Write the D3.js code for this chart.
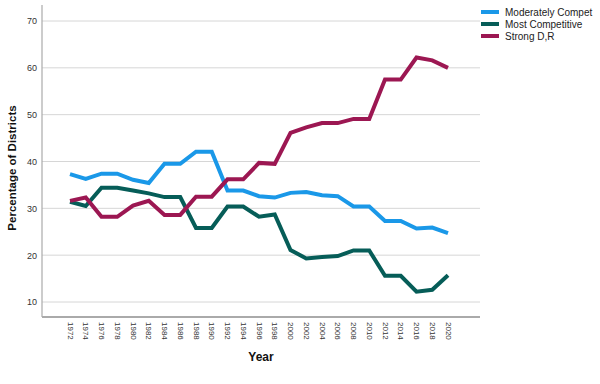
<!DOCTYPE html>
<html>
<head>
<meta charset="utf-8">
<script src="https://cdn.jsdelivr.net/npm/d3@7"></script>
<style>
  body { margin: 0; background: #fff; }
  svg { font-family: "Liberation Sans", Arial, sans-serif; }
</style>
</head>
<body>
<script>
// values
var years = [1972,1974,1976,1978,1980,1982,1984,1986,1988,1990,1992,1994,1996,
             1998,2000,2002,2004,2006,2008,2010,2012,2014,2016,2018,2020];
var moderately = [37.3,36.3,37.4,37.4,36.1,35.4,39.5,39.5,42.1,42.1,33.8,33.8,32.6,
                  32.3,33.3,33.5,32.8,32.6,30.4,30.4,27.3,27.3,25.7,25.9,24.7];
var most = [31.4,30.5,34.4,34.4,33.8,33.2,32.4,32.4,25.8,25.8,30.4,30.4,28.2,
            28.7,21.1,19.3,19.6,19.8,21.0,21.0,15.6,15.6,12.2,12.6,15.7];
var strong = [31.6,32.3,28.2,28.2,30.6,31.6,28.6,28.6,32.5,32.5,36.2,36.2,39.7,
              39.5,46.1,47.3,48.2,48.2,49.1,49.1,57.5,57.5,62.2,61.6,60.0];
var seriesNames = ["Moderately Compet", "Most Competitive", "Strong D,R"];
var yTicks = [10,20,30,40,50,60,70];

var colors = ["#1a98e8", "#065d58", "#9c1752"];
var seriesVals = [moderately, most, strong];

var width = 600, height = 384;
var svg = d3.select("body").append("svg")
  .attr("width", width)
  .attr("height", height);

var x = d3.scalePoint().domain(years).range([70, 448]);
var y = d3.scaleLinear().domain([10, 70]).range([302, 21]);
var xLeft = 42, xRight = 480, yBottom = 317, yTop = 5;

// gridlines
svg.append("g").selectAll("line")
  .data(yTicks)
  .enter().append("line")
  .attr("x1", xLeft).attr("x2", xRight)
  .attr("y1", d => y(d)).attr("y2", d => y(d))
  .attr("stroke", "#d6d6d6")
  .attr("stroke-width", 1);

// y axis
var yAxis = svg.append("g")
  .attr("transform", "translate(" + xLeft + ",0)")
  .call(d3.axisLeft(y).tickValues(yTicks).tickSize(0).tickPadding(5));
yAxis.select(".domain").remove();
yAxis.selectAll("text")
  .attr("fill", "#333")
  .style("font-size", "9px");

svg.append("line")
  .attr("x1", xLeft).attr("x2", xLeft)
  .attr("y1", yTop).attr("y2", yBottom)
  .attr("stroke", "#aaa").attr("stroke-width", 1.2);

// x axis
var xAxis = svg.append("g")
  .attr("transform", "translate(0," + yBottom + ")")
  .call(d3.axisBottom(x).tickSize(0).tickPadding(0));
xAxis.select(".domain").remove();
xAxis.selectAll("text")
  .attr("fill", "#333")
  .style("font-size", "8px")
  .attr("text-anchor", "start")
  .attr("dy", null)
  .attr("y", 0)
  .attr("transform", d => "translate(" + (-3) + ",5) rotate(90)");

svg.append("line")
  .attr("x1", xLeft).attr("x2", xRight)
  .attr("y1", yBottom).attr("y2", yBottom)
  .attr("stroke", "#aaa").attr("stroke-width", 1.8);

// axis titles
svg.append("text")
  .attr("x", 261).attr("y", 361)
  .attr("text-anchor", "middle")
  .style("font-size", "12px")
  .style("font-weight", "bold")
  .attr("fill", "#111")
  .text("Year");

svg.append("text")
  .attr("transform", "translate(16,168) rotate(-90)")
  .attr("text-anchor", "middle")
  .style("font-size", "11.5px")
  .style("font-weight", "bold")
  .attr("fill", "#111")
  .text("Percentage of Districts");

// lines
var line = d3.line()
  .x((d, i) => x(years[i]))
  .y(d => y(d));

svg.append("g").selectAll("path")
  .data(seriesVals)
  .enter().append("path")
  .attr("d", d => line(d))
  .attr("fill", "none")
  .attr("stroke", (d, i) => colors[i])
  .attr("stroke-width", 4)
  .attr("stroke-linejoin", "miter")
  .attr("stroke-linecap", "butt");

// legend
var legend = svg.append("g").selectAll("g")
  .data(seriesNames)
  .enter().append("g")
  .attr("transform", (d, i) => "translate(481," + (12 + i * 12) + ")");
legend.append("line")
  .attr("x1", 0).attr("x2", 18)
  .attr("stroke", (d, i) => colors[i])
  .attr("stroke-width", 4);
legend.append("text")
  .attr("x", 24).attr("y", 4)
  .style("font-size", "10px")
  .attr("fill", "#222")
  .text(d => d);
</script>
</body>
</html>
